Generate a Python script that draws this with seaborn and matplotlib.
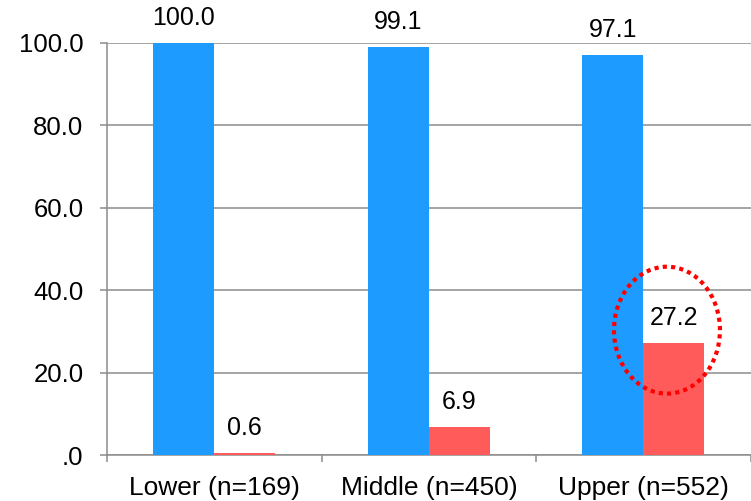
import matplotlib
matplotlib.use("Agg")
import matplotlib.pyplot as plt
from matplotlib.patches import Ellipse
from matplotlib.ticker import FixedLocator, FuncFormatter
import seaborn as sns
import pandas as pd

# Data
groups = ["Lower (n=169)", "Middle (n=450)", "Upper (n=552)"]
series_names = ["Series 1", "Series 2"]
series_1 = [100.0, 99.1, 97.1]
series_2 = [0.6, 6.9, 27.2]
y_ticks = [0, 20, 40, 60, 80, 100]

df = pd.DataFrame({
    "group": groups * 2,
    "series": [series_names[0]] * 3 + [series_names[1]] * 3,
    "value": series_1 + series_2,
})

sns.set_theme(style="white")
plt.rcParams["font.family"] = ["Liberation Sans", "DejaVu Sans"]

fig = plt.figure(figsize=(7.51, 5.01), dpi=100)
ax = fig.add_axes([0.1425, 0.0918, 0.857, 0.8224])

palette = {series_names[0]: "#1E9BFF", series_names[1]: "#FF5B5B"}
sns.barplot(data=df, x="group", y="value", hue="series", order=groups,
            hue_order=series_names, palette=palette, width=0.57,
            saturation=1, legend=False, linewidth=0, ax=ax, zorder=3)

ax.set_xlim(-0.5, 2.5)
ax.set_ylim(0, 100)
ax.set_xlabel("")
ax.set_ylabel("")

grey = "#8C8C8C"
# y axis
ax.yaxis.set_major_locator(FixedLocator(y_ticks))
ax.yaxis.set_major_formatter(FuncFormatter(lambda v, p: ".0" if v == 0 else f"{v:.1f}"))
ax.tick_params(axis="y", which="major", length=5, width=1.1, color=grey,
               direction="out", pad=12, labelsize=18.5, labelcolor="black", left=True)
ax.yaxis.grid(True, color=grey, linewidth=1.1)
ax.set_axisbelow(True)

# x axis: ticks at group boundaries, labels at group centres
ax.xaxis.set_major_locator(FixedLocator([-0.5, 0.5, 1.5, 2.5]))
ax.xaxis.set_major_formatter(FuncFormatter(lambda v, p: ""))
ax.xaxis.set_minor_locator(FixedLocator([0, 1, 2]))
ax.xaxis.set_minor_formatter(FuncFormatter(lambda v, p: groups[int(round(v))]))
ax.tick_params(axis="x", which="major", length=5, width=1.1, color=grey,
               direction="out", bottom=True)
ax.tick_params(axis="x", which="minor", length=0, pad=15, labelsize=19,
               labelcolor="black", bottom=True)

for side in ["top", "right"]:
    ax.spines[side].set_visible(False)
for side in ["left", "bottom"]:
    ax.spines[side].set_color(grey)
    ax.spines[side].set_linewidth(1.1)

# value labels above bars
for container in ax.containers:
    for bar in container:
        h = bar.get_height()
        ax.annotate(f"{h:.1f}", (bar.get_x() + bar.get_width() / 2, h),
                    xytext=(0, 18), textcoords="offset points",
                    ha="center", va="center", fontsize=18, color="black",
                    annotation_clip=False)

# highlight around the upper group's second value
ax.add_patch(Ellipse((2.11, 30.3), 0.494, 30.8, fill=False, edgecolor="#FF0000",
                     linewidth=3, linestyle=(0, (1, 1)), zorder=5, clip_on=False))

fig.savefig("out.png", dpi=100)
